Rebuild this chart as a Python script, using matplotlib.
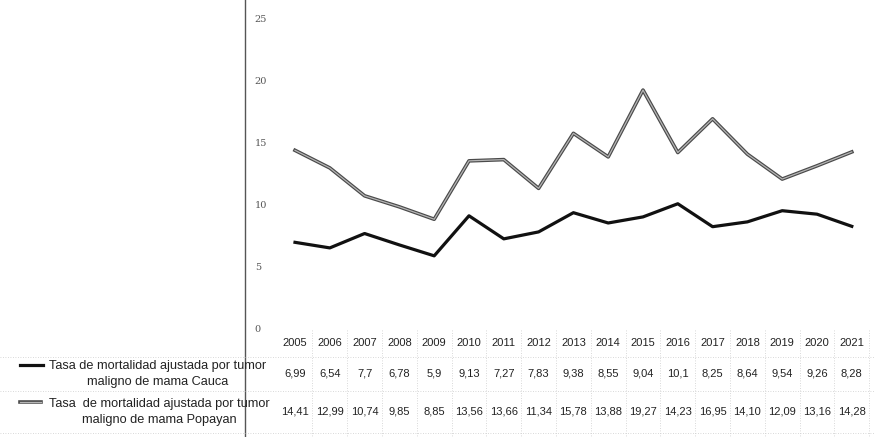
import matplotlib
matplotlib.use("Agg")
import matplotlib.pyplot as plt
from matplotlib.transforms import blended_transform_factory
from matplotlib.lines import Line2D

# data
years = ["2005", "2006", "2007", "2008", "2009", "2010", "2011", "2012", "2013",
         "2014", "2015", "2016", "2017", "2018", "2019", "2020", "2021"]
cauca = [6.99, 6.54, 7.7, 6.78, 5.9, 9.13, 7.27, 7.83, 9.38, 8.55, 9.04, 10.1,
         8.25, 8.64, 9.54, 9.26, 8.28]
popayan = [14.41, 12.99, 10.74, 9.85, 8.85, 13.56, 13.66, 11.34, 15.78, 13.88,
           19.27, 14.23, 16.95, 14.10, 12.09, 13.16, 14.28]
yticks = [0, 5, 10, 15, 20, 25]
label_cauca = "Tasa de mortalidad ajustada por tumor\nmaligno de mama Cauca"
label_popayan = "Tasa  de mortalidad ajustada por tumor\nmaligno de mama Popayan"

W, H = 875, 437
fig = plt.figure(figsize=(W / 100, H / 100), dpi=100)
fig.patch.set_facecolor("white")


def fy(py):
    # pixel row -> figure fraction
    return 1 - py / H


# axes placed so the vertical axis sits at x=245px and 0 at y=329px
X0, DX = 295, 34.8
ax = fig.add_axes([245 / W, fy(329), (W - 245) / W, 329 / H])
x = list(range(len(years)))

# Popayan: grey line with darker edges, Cauca: solid black
ax.plot(x, popayan, color="#4a4a4a", lw=2.6)
ax.plot(x, popayan, color="#b5b5b5", lw=0.9)
ax.plot(x, cauca, color="#111111", lw=2.3)

ax.set_xlim((245 - X0) / DX, (W - X0) / DX)
ax.set_ylim(0, 329 / 12.4)
ax.set_xticks([])
ax.set_yticks(yticks)
ax.tick_params(axis="y", length=0, pad=-7, labelsize=7, labelcolor="#555555")
for t in ax.get_yticklabels():
    t.set_ha("left")
    t.set_family("DejaVu Serif")
for s in ["top", "right", "bottom", "left"]:
    ax.spines[s].set_visible(False)
ax.patch.set_alpha(0)

# vertical axis line running down through the table
fig.add_artist(Line2D([245 / W, 245 / W], [fy(0), fy(437)], color="#555555", lw=1.0))

# data table under the chart
tr = blended_transform_factory(ax.transData, fig.transFigure)
font = dict(family="Liberation Sans", size=8, color="#222222", ha="center", va="center")
for i, yr in enumerate(years):
    ax.text(i, fy(343), yr, transform=tr, clip_on=False, **font)
    ax.text(i, fy(373), f"{cauca[i]:g}".replace(".", ","), transform=tr, clip_on=False, **font)
    ax.text(i, fy(412), f"{popayan[i]:.2f}".replace(".", ","), transform=tr, clip_on=False, **font)

# faint dotted cell borders
for py in [357, 391, 433]:
    fig.add_artist(Line2D([0, 1], [fy(py), fy(py)], color="#cccccc", lw=0.6, ls=(0, (1, 2))))
for i in range(len(years)):
    xb = ax.transData.transform((i + 0.5, 0))[0] / W
    fig.add_artist(Line2D([xb, xb], [fy(330), fy(437)], color="#cccccc", lw=0.6, ls=(0, (1, 2))))

# legend keys and wrapped labels
lfont = dict(family="Liberation Sans", size=9.2, color="#222222", va="center",
             ha="center", multialignment="center", linespacing=1.55)
fig.add_artist(Line2D([20 / W, 43 / W], [fy(365), fy(365)], color="#111111", lw=2.3))
fig.text(158 / W, fy(374), label_cauca, **lfont)
fig.add_artist(Line2D([20 / W, 41 / W], [fy(402), fy(402)], color="#4a4a4a", lw=2.6))
fig.add_artist(Line2D([20 / W, 41 / W], [fy(402), fy(402)], color="#b5b5b5", lw=0.9))
fig.text(159 / W, fy(412), label_popayan, **lfont)

fig.savefig("out.png", dpi=100, facecolor="white")
